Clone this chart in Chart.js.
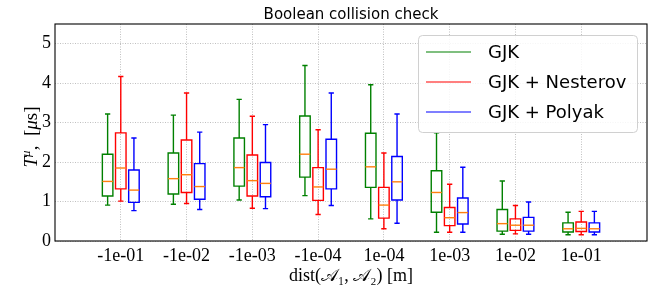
<!DOCTYPE html>
<html><head><meta charset="utf-8">
<script src="https://cdn.jsdelivr.net/npm/chart.js@4/dist/chart.umd.min.js"></script>
<style>html,body{margin:0;padding:0;background:#fff}#wrap{width:652px;height:286px;position:relative}</style>
</head><body><div id="wrap"><canvas id="c"></canvas></div>
<script>
// ---- data ----
const categories = ['-1e-01','-1e-02','-1e-03','-1e-04','1e-04','1e-03','1e-02','1e-01'];
const seriesNames = ['GJK','GJK + Nesterov','GJK + Polyak'];
const yTicks = [0,1,2,3,4,5];
// each entry: [lower whisker, Q1, median, Q3, upper whisker] in microseconds
const gjkStats = [
  [0.91,1.14,1.51,2.20,3.22],
  [0.93,1.19,1.58,2.23,3.19],
  [1.04,1.39,1.86,2.61,3.59],
  [1.15,1.62,2.20,3.17,4.45],
  [0.56,1.36,1.88,2.73,3.96],
  [0.22,0.73,1.23,1.78,2.74],
  [0.17,0.25,0.44,0.80,1.52],
  [0.16,0.23,0.31,0.46,0.73]
];
const nesterovStats = [
  [1.01,1.32,1.85,2.74,4.17],
  [0.95,1.23,1.68,2.56,3.75],
  [0.83,1.14,1.53,2.18,3.16],
  [0.67,1.03,1.37,1.86,2.82],
  [0.31,0.58,0.91,1.36,2.23],
  [0.22,0.39,0.59,0.85,1.44],
  [0.18,0.27,0.40,0.56,0.90],
  [0.16,0.24,0.32,0.48,0.75]
];
const polyakStats = [
  [0.77,0.98,1.29,1.80,2.61],
  [0.80,1.06,1.38,1.96,2.76],
  [0.82,1.12,1.46,1.99,2.95],
  [0.90,1.32,1.82,2.58,3.75],
  [0.45,1.04,1.50,2.14,3.22],
  [0.22,0.43,0.72,1.09,1.87],
  [0.17,0.25,0.40,0.60,0.99],
  [0.16,0.23,0.31,0.46,0.75]
];
const seriesStats = [gjkStats, nesterovStats, polyakStats];
const seriesColors = ['#008000','#ff0000','#0000ff'];
const seriesOffsets = [-0.2, 0, 0.2];
const BOX_W = 0.16;
const MEDIAN_COLOR = '#ff7f0e';

const datasets = seriesNames.map((name, si) => ({
  label: name,
  stats: seriesStats[si],
  offset: seriesOffsets[si],
  borderColor: seriesColors[si],
  backgroundColor: seriesColors[si],
  pointRadius: 0,
  showLine: false,
  data: seriesStats[si].map((s, i) => ({x: i + 1 + seriesOffsets[si], y: s[2]}))
}));

const boxPlugin = {
  id: 'boxes',
  afterDatasetsDraw(chart) {
    const {ctx, scales: {x, y}} = chart;
    ctx.save();
    chart.data.datasets.forEach(ds => {
      ds.stats.forEach((s, i) => {
        const c = i + 1 + ds.offset;
        const xl = x.getPixelForValue(c - BOX_W / 2);
        const xr = x.getPixelForValue(c + BOX_W / 2);
        const cl = x.getPixelForValue(c - BOX_W / 4);
        const cr = x.getPixelForValue(c + BOX_W / 4);
        const xc = x.getPixelForValue(c);
        const [lo, q1, med, q3, hi] = s.map(v => y.getPixelForValue(v));
        ctx.lineWidth = 1.4;
        ctx.strokeStyle = ds.borderColor;
        ctx.beginPath();
        ctx.rect(xl, q3, xr - xl, q1 - q3);
        ctx.moveTo(xc, q1); ctx.lineTo(xc, lo);
        ctx.moveTo(xc, q3); ctx.lineTo(xc, hi);
        ctx.moveTo(cl, lo); ctx.lineTo(cr, lo);
        ctx.moveTo(cl, hi); ctx.lineTo(cr, hi);
        ctx.stroke();
        ctx.strokeStyle = MEDIAN_COLOR;
        ctx.beginPath();
        ctx.moveTo(xl, med); ctx.lineTo(xr, med);
        ctx.stroke();
      });
    });
    // frame
    const a = chart.chartArea;
    ctx.strokeStyle = '#000';
    ctx.lineWidth = 1.1;
    ctx.strokeRect(a.left, a.top, a.right - a.left, a.bottom - a.top);
    ctx.restore();
  },
  afterDraw(chart) {
    const {ctx} = chart;
    const a = chart.chartArea;
    ctx.save();
    // title
    ctx.fillStyle = '#000';
    ctx.font = '15px "DejaVu Sans"';
    ctx.textAlign = 'center';
    ctx.textBaseline = 'alphabetic';
    ctx.fillText('Boolean collision check', (a.left + a.right) / 2, 19);
    // x axis title
    ctx.font = '18px "Liberation Serif"';
    ctx.fillText('dist(𝒜₁, 𝒜₂) [m]', (a.left + a.right) / 2, 281);
    // legend
    const bw = 219, bh = 97;
    const bx = a.right - 10 - bw, by = a.top + 11;
    ctx.beginPath();
    ctx.roundRect(bx + 0.5, by + 0.5, bw, bh, 4);
    ctx.fillStyle = 'rgba(255,255,255,0.85)';
    ctx.fill();
    ctx.strokeStyle = '#d0d0d0';
    ctx.lineWidth = 1;
    ctx.stroke();
    ctx.font = '18px "DejaVu Sans"';
    ctx.textAlign = 'left';
    ctx.textBaseline = 'middle';
    chart.data.datasets.forEach((ds, i) => {
      const ry = by + 17 + i * 30;
      ctx.strokeStyle = ds.borderColor;
      ctx.lineWidth = 1.1;
      ctx.beginPath();
      ctx.moveTo(bx + 8, ry); ctx.lineTo(bx + 53, ry);
      ctx.stroke();
      ctx.fillStyle = '#000';
      ctx.fillText(ds.label, bx + 70, ry + 1);
    });
    // y axis title: T^mu, [mu s]
    ctx.translate(37, 137);
    ctx.rotate(-Math.PI / 2);
    const segs = [
      {t: 'T', f: 'italic 19px "Liberation Serif"', dy: 0},
      {t: 'μ', f: 'italic 13px "Liberation Serif"', dy: -7},
      {t: ',  [', f: '19px "Liberation Serif"', dy: 0},
      {t: 'μ', f: 'italic 19px "Liberation Serif"', dy: 0},
      {t: 's]', f: '19px "Liberation Serif"', dy: 0}
    ];
    let w = 0;
    segs.forEach(sg => { ctx.font = sg.f; sg.w = ctx.measureText(sg.t).width; w += sg.w; });
    let ux = -w / 2;
    ctx.textBaseline = 'alphabetic';
    ctx.textAlign = 'left';
    ctx.fillStyle = '#000';
    segs.forEach(sg => { ctx.font = sg.f; ctx.fillText(sg.t, ux, sg.dy); ux += sg.w; });
    ctx.restore();
  }
};

new Chart(document.getElementById('c'), {
  type: 'scatter',
  data: {datasets},
  options: {
    responsive: true,
    maintainAspectRatio: false,
    animation: false,
    layout: {padding: {top: 24, right: 5, left: 0, bottom: 0}},
    plugins: {legend: {display: false}, title: {display: false}, tooltip: {enabled: false}},
    scales: {
      x: {
        type: 'linear', min: 0, max: 9,
        afterBuildTicks: s => { s.ticks = categories.map((c, i) => ({value: i + 1})); },
        afterFit: s => { s.height = 45; },
        ticks: {
          callback: v => categories[v - 1],
          font: {family: '"Liberation Serif"', size: 18},
          color: '#000', padding: 4, maxRotation: 0, autoSkip: false
        },
        grid: {color: '#b0b0b0', lineWidth: 0.8, drawTicks: false},
        border: {display: false, dash: [1, 1.5]}
      },
      y: {
        type: 'linear', min: 0, max: 5.5,
        afterBuildTicks: s => { s.ticks = yTicks.map(v => ({value: v})); },
        afterFit: s => { s.width = 55; },
        ticks: {font: {family: '"Liberation Serif"', size: 18}, color: '#000', padding: 4},
        grid: {color: '#b0b0b0', lineWidth: 0.8, drawTicks: false},
        border: {display: false, dash: [1, 1.5]}
      }
    }
  },
  plugins: [boxPlugin]
});
</script></body></html>
